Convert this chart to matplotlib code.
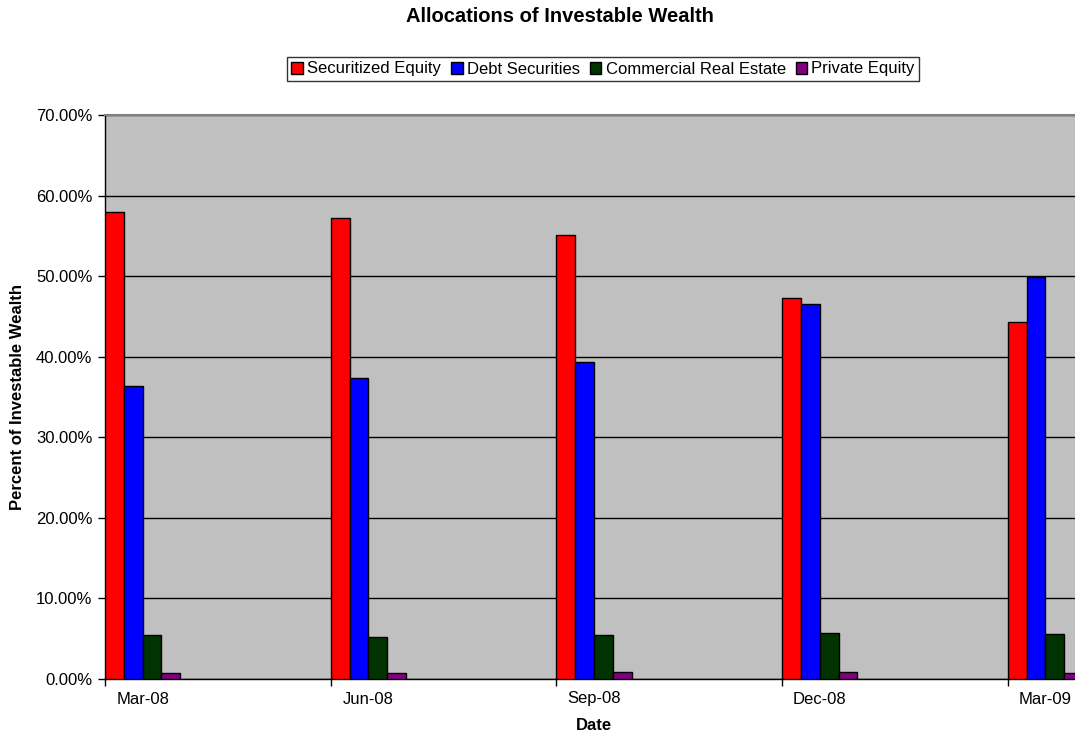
import matplotlib.pyplot as plt
import numpy as np
from matplotlib.ticker import FuncFormatter, MultipleLocator

plt.rcParams['font.family'] = ['Liberation Sans', 'DejaVu Sans']

dates = ['Mar-08', 'Jun-08', 'Sep-08', 'Dec-08', 'Mar-09']
months = np.array([0, 3, 6, 9, 12])  # months after Mar-08

securitized_equity = [57.9, 57.2, 55.1, 47.3, 44.3]
debt_securities = [36.4, 37.3, 39.3, 46.6, 49.9]
commercial_real_estate = [5.4, 5.25, 5.4, 5.7, 5.6]
private_equity = [0.75, 0.8, 0.85, 0.9, 0.7]

series = [
    ('Securitized Equity', securitized_equity, '#FF0000'),
    ('Debt Securities', debt_securities, '#0000FF'),
    ('Commercial Real Estate', commercial_real_estate, '#003300'),
    ('Private Equity', private_equity, '#800080'),
]

fig = plt.figure(figsize=(10.75, 7.33), dpi=100)
ax = fig.add_axes([105 / 1075, 1 - 679 / 733, 978 / 1075, 564 / 733])
ax.set_facecolor('#C0C0C0')

bw = 0.25
for i, (name, vals, col) in enumerate(series):
    ax.bar(months + i * bw, vals, width=bw, align='edge', color=col,
           edgecolor='black', linewidth=1, label=name, zorder=3)

ax.set_xlim(0, 13)
ax.set_ylim(0, 70)
ax.yaxis.set_major_locator(MultipleLocator(10))
ax.yaxis.set_major_formatter(FuncFormatter(lambda v, p: f'{v:.2f}%'))
ax.grid(axis='y', color='black', linewidth=1, zorder=1)

# ticks at the start of each quarter, labels in the middle of the month
ax.set_xticks(months)
ax.set_xticklabels([])
ax.set_xticks(months + 0.5, minor=True)
ax.set_xticklabels(dates, minor=True)
ax.tick_params(axis='x', which='minor', length=0, pad=9, labelsize=12)
ax.tick_params(axis='x', which='major', length=5, width=1, direction='out')
ax.tick_params(axis='y', length=5, width=1, direction='out', pad=4, labelsize=12)

for s in ['top', 'right']:
    ax.spines[s].set_color('#808080')
    ax.spines[s].set_linewidth(1.5)
ax.spines['left'].set_linewidth(1)
ax.spines['bottom'].set_linewidth(1)

fig.text(594 / 1075, 1 - 726 / 733, 'Date', ha='center', va='center',
         fontsize=12, fontweight='bold')
fig.text(18 / 1075, 1 - 397 / 733, 'Percent of Investable Wealth', rotation=90,
         ha='center', va='center', fontsize=12, fontweight='bold')

fig.text(560 / 1075, 1 - 17 / 733, 'Allocations of Investable Wealth',
         ha='center', va='center', fontsize=14.5, fontweight='bold')

leg = ax.legend(loc='center', bbox_to_anchor=(603 / 1075, 1 - 69 / 733),
                bbox_transform=fig.transFigure, ncol=4, fontsize=12,
                frameon=True, fancybox=False, edgecolor='black',
                handlelength=0.7, handleheight=0.7, handletextpad=0.25,
                columnspacing=0.6, borderpad=0.25)
leg.get_frame().set_linewidth(1)

fig.savefig('out.png', dpi=100)
